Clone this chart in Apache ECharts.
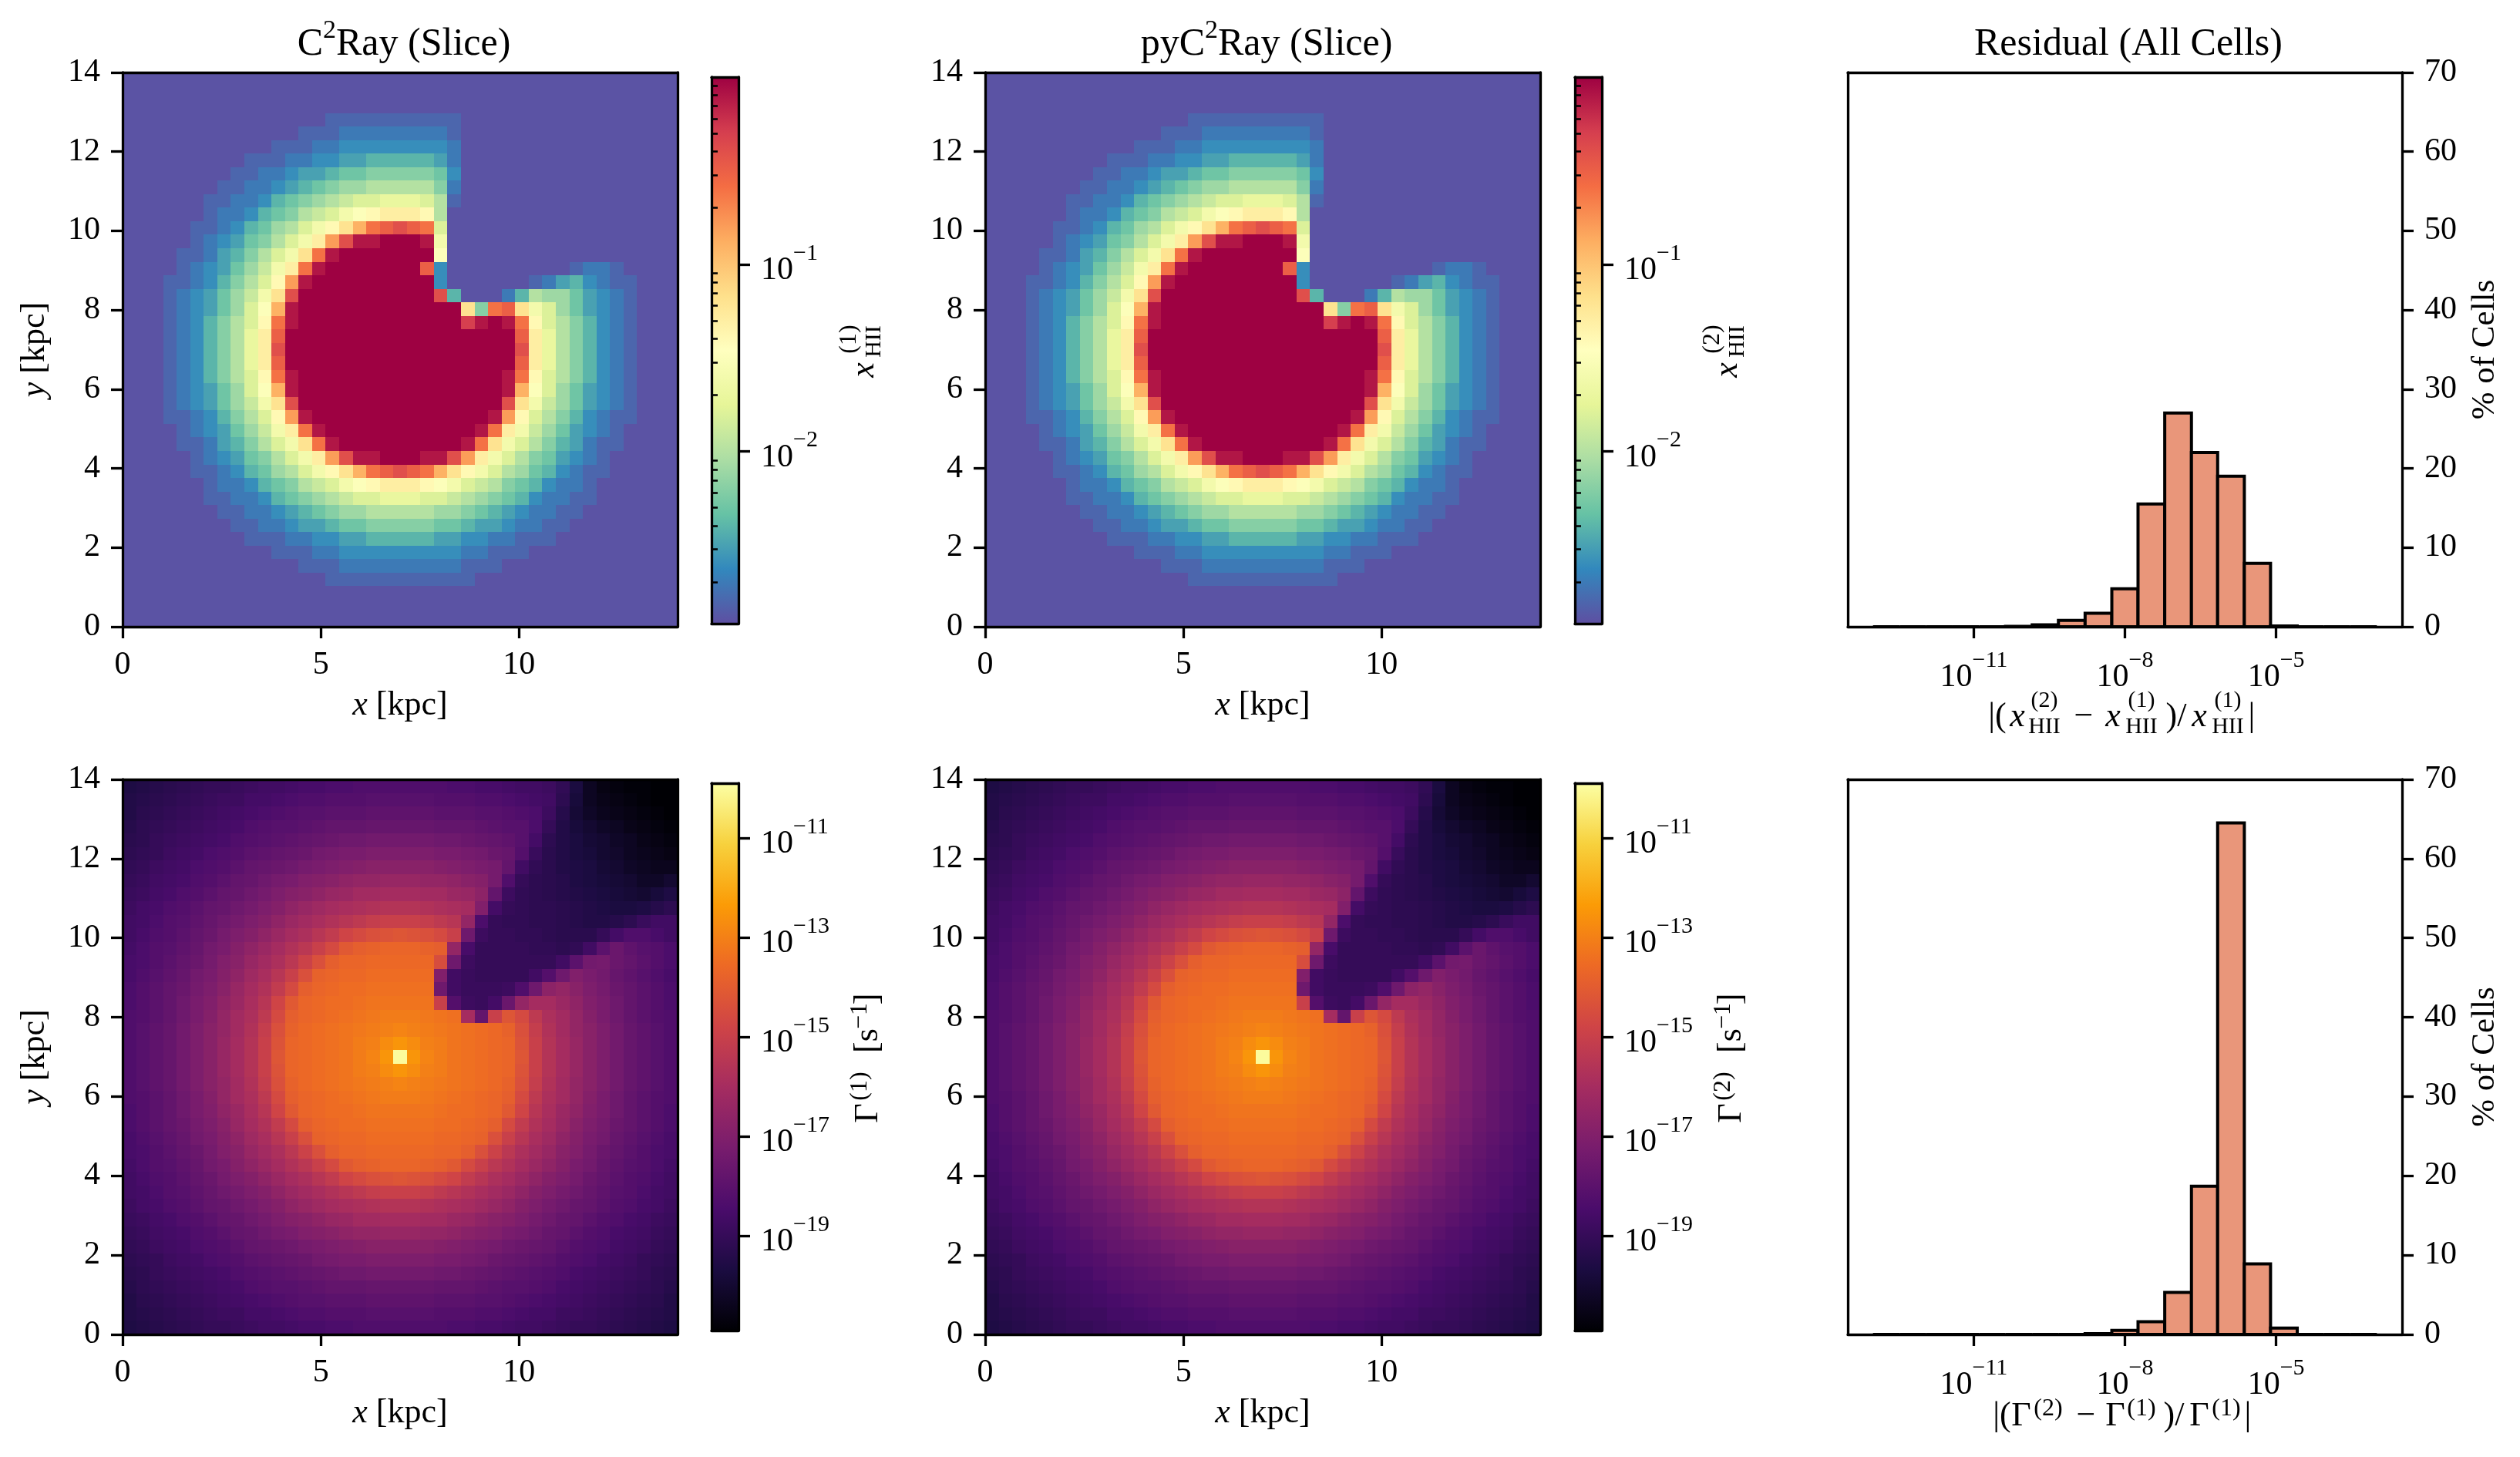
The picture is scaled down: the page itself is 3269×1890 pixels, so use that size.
<!DOCTYPE html>
<html><head><meta charset="utf-8">
<script src="https://cdn.jsdelivr.net/npm/echarts@6/dist/echarts.min.js"></script>
<style>html,body{margin:0;padding:0;background:#fff}#c{width:3269px;height:1890px}</style></head>
<body><div id="c"></div>
<script>
const FONT='"Liberation Serif"';
const spectral=['#5e4fa2','#3288bd','#66c2a5','#abdda4','#e6f598','#ffffbf','#fee08b','#fdae61','#f46d43','#d53e4f','#9e0142'];
const inferno=['#000004','#1b0c41','#4a0c6b','#781c6d','#a52c60','#cf4446','#ed6925','#fb9b06','#f7d13d','#fcffa4'];
const ionRange=[-2.92,0], rateRange=[-20.9,-9.9];
const ionMajor=[-2,-1];
const ionMinor=[-2.699,-2.523,-2.398,-2.301,-2.222,-2.155,-2.097,-2.046,-1.699,-1.523,-1.398,-1.301,-1.222,-1.155,-1.097,-1.046,-0.699,-0.523,-0.398,-0.301,-0.222,-0.155,-0.097,-0.046];
const rateMajor=[-19,-17,-15,-13,-11];
const binEdges=[-13,-12.47,-11.95,-11.42,-10.89,-10.37,-9.84,-9.32,-8.79,-8.26,-7.74,-7.21,-6.68,-6.16,-5.63,-5.11,-4.58,-4.05,-3.53,-3];
const histIon=[0,0,0,0,0,0.05,0.25,0.8,1.7,4.8,15.5,27,22,19,8,0.1,0,0,0];
const histRate=[0,0,0,0,0,0,0,0,0.1,0.5,1.6,5.3,18.7,64.5,8.9,0.8,0,0,0];
// log10(x_HII) x 10, top row first
const ionField=[
[-29,-29,-29,-29,-29,-29,-29,-29,-29,-29,-29,-29,-29,-29,-29,-29,-29,-29,-29,-29,-29,-29,-29,-29,-29,-29,-29,-29,-29,-29,-29,-29,-29,-29,-29,-29,-29,-29,-29,-29,-29],
[-29,-29,-29,-29,-29,-29,-29,-29,-29,-29,-29,-29,-29,-29,-29,-29,-29,-29,-29,-29,-29,-29,-29,-29,-29,-29,-29,-29,-29,-29,-29,-29,-29,-29,-29,-29,-29,-29,-29,-29,-29],
[-29,-29,-29,-29,-29,-29,-29,-29,-29,-29,-29,-29,-29,-29,-29,-29,-29,-29,-29,-29,-29,-29,-29,-29,-29,-29,-29,-29,-29,-29,-29,-29,-29,-29,-29,-29,-29,-29,-29,-29,-29],
[-29,-29,-29,-29,-29,-29,-29,-29,-29,-29,-29,-29,-29,-29,-29,-28,-28,-28,-28,-28,-28,-28,-28,-28,-28,-29,-29,-29,-29,-29,-29,-29,-29,-29,-29,-29,-29,-29,-29,-29,-29],
[-29,-29,-29,-29,-29,-29,-29,-29,-29,-29,-29,-29,-29,-28,-28,-28,-27,-27,-27,-27,-27,-27,-27,-27,-28,-29,-29,-29,-29,-29,-29,-29,-29,-29,-29,-29,-29,-29,-29,-29,-29],
[-29,-29,-29,-29,-29,-29,-29,-29,-29,-29,-29,-28,-28,-28,-27,-27,-26,-26,-26,-26,-26,-26,-26,-26,-27,-29,-29,-29,-29,-29,-29,-29,-29,-29,-29,-29,-29,-29,-29,-29,-29],
[-29,-29,-29,-29,-29,-29,-29,-29,-29,-28,-28,-28,-27,-27,-26,-26,-25,-25,-24,-24,-24,-24,-24,-25,-27,-29,-29,-29,-29,-29,-29,-29,-29,-29,-29,-29,-29,-29,-29,-29,-29],
[-29,-29,-29,-29,-29,-29,-29,-29,-28,-28,-27,-27,-26,-25,-25,-24,-23,-23,-22,-22,-22,-22,-22,-23,-26,-29,-29,-29,-29,-29,-29,-29,-29,-29,-29,-29,-29,-29,-29,-29,-29],
[-29,-29,-29,-29,-29,-29,-29,-28,-28,-27,-27,-26,-25,-24,-23,-22,-21,-21,-20,-20,-20,-20,-20,-22,-27,-29,-29,-29,-29,-29,-29,-29,-29,-29,-29,-29,-29,-29,-29,-29,-29],
[-29,-29,-29,-29,-29,-29,-28,-28,-27,-27,-26,-24,-23,-22,-21,-20,-19,-18,-18,-17,-17,-17,-18,-20,-28,-29,-29,-29,-29,-29,-29,-29,-29,-29,-29,-29,-29,-29,-29,-29,-29],
[-29,-29,-29,-29,-29,-29,-28,-27,-27,-26,-24,-23,-22,-20,-19,-18,-16,-15,-14,-13,-13,-13,-14,-20,-29,-29,-29,-29,-29,-29,-29,-29,-29,-29,-29,-29,-29,-29,-29,-29,-29],
[-29,-29,-29,-29,-29,-28,-28,-27,-26,-24,-23,-21,-20,-18,-16,-14,-12,-9,-6,-5,-4,-5,-6,-18,-29,-29,-29,-29,-29,-29,-29,-29,-29,-29,-29,-29,-29,-29,-29,-29,-29],
[-29,-29,-29,-29,-29,-28,-27,-26,-25,-23,-22,-20,-18,-16,-13,-8,-4,-1,-1,0,0,0,-1,-16,-29,-29,-29,-29,-29,-29,-29,-29,-29,-29,-29,-29,-29,-29,-29,-29,-29],
[-29,-29,-29,-29,-28,-28,-27,-25,-24,-22,-20,-18,-16,-12,-6,-1,0,0,0,0,0,0,0,-15,-29,-29,-29,-29,-29,-29,-29,-29,-29,-29,-29,-29,-29,-29,-29,-29,-29],
[-29,-29,-29,-29,-28,-27,-26,-25,-23,-21,-19,-16,-13,-6,-1,0,0,0,0,0,0,0,-5,-26,-29,-29,-29,-29,-29,-29,-29,-29,-29,-28,-27,-27,-28,-29,-29,-29,-29],
[-29,-29,-29,-28,-28,-27,-26,-24,-22,-20,-18,-14,-8,-1,0,0,0,0,0,0,0,0,0,-26,-29,-29,-29,-29,-29,-29,-28,-27,-25,-24,-26,-27,-28,-28,-29,-29,-29],
[-29,-29,-29,-28,-27,-26,-25,-23,-21,-19,-16,-12,-4,0,0,0,0,0,0,0,0,0,0,-4,-24,-29,-29,-29,-27,-24,-20,-21,-21,-23,-25,-26,-27,-28,-29,-29,-29],
[-29,-29,-29,-28,-27,-26,-25,-23,-21,-18,-15,-9,-1,0,0,0,0,0,0,0,0,0,0,0,0,-12,-22,-6,-5,-12,-16,-18,-21,-23,-25,-26,-27,-28,-29,-29,-29],
[-29,-29,-29,-28,-27,-26,-24,-22,-20,-18,-14,-6,-1,0,0,0,0,0,0,0,0,0,0,0,0,-3,-1,0,-1,-6,-14,-18,-20,-22,-24,-26,-27,-28,-29,-29,-29],
[-29,-29,-29,-28,-27,-26,-24,-22,-20,-17,-13,-5,0,0,0,0,0,0,0,0,0,0,0,0,0,0,0,0,0,-5,-13,-17,-20,-22,-24,-26,-27,-28,-29,-29,-29],
[-29,-29,-29,-28,-27,-26,-24,-22,-20,-17,-13,-4,0,0,0,0,0,0,0,0,0,0,0,0,0,0,0,0,0,-4,-13,-17,-20,-22,-24,-26,-27,-28,-29,-29,-29],
[-29,-29,-29,-28,-27,-26,-24,-22,-20,-17,-13,-5,0,0,0,0,0,0,0,0,0,0,0,0,0,0,0,0,0,-5,-13,-17,-20,-22,-24,-26,-27,-28,-29,-29,-29],
[-29,-29,-29,-28,-27,-26,-24,-22,-20,-18,-14,-6,-1,0,0,0,0,0,0,0,0,0,0,0,0,0,0,0,-1,-6,-14,-18,-20,-22,-24,-26,-27,-28,-29,-29,-29],
[-29,-29,-29,-28,-27,-26,-25,-23,-21,-18,-15,-9,-1,0,0,0,0,0,0,0,0,0,0,0,0,0,0,0,-1,-9,-15,-18,-21,-23,-25,-26,-27,-28,-29,-29,-29],
[-29,-29,-29,-28,-27,-26,-25,-23,-21,-19,-16,-12,-4,0,0,0,0,0,0,0,0,0,0,0,0,0,0,0,-4,-12,-16,-19,-21,-23,-25,-26,-27,-28,-29,-29,-29],
[-29,-29,-29,-28,-28,-27,-26,-24,-22,-20,-18,-14,-8,-1,0,0,0,0,0,0,0,0,0,0,0,0,0,-1,-8,-14,-18,-20,-22,-24,-26,-27,-28,-28,-29,-29,-29],
[-29,-29,-29,-29,-28,-27,-26,-25,-23,-21,-19,-16,-13,-6,-1,0,0,0,0,0,0,0,0,0,0,0,-1,-6,-13,-16,-19,-21,-23,-25,-26,-27,-28,-29,-29,-29,-29],
[-29,-29,-29,-29,-28,-28,-27,-25,-24,-22,-20,-18,-16,-12,-6,-1,0,0,0,0,0,0,0,0,0,-1,-6,-12,-16,-18,-20,-22,-24,-25,-27,-28,-28,-29,-29,-29,-29],
[-29,-29,-29,-29,-29,-28,-27,-26,-25,-23,-22,-20,-18,-16,-13,-8,-4,-1,-1,0,0,0,-1,-1,-4,-8,-13,-16,-18,-20,-22,-23,-25,-26,-27,-28,-29,-29,-29,-29,-29],
[-29,-29,-29,-29,-29,-28,-28,-27,-26,-24,-23,-21,-20,-18,-16,-14,-12,-9,-6,-5,-4,-5,-6,-9,-12,-14,-16,-18,-20,-21,-23,-24,-26,-27,-28,-28,-29,-29,-29,-29,-29],
[-29,-29,-29,-29,-29,-29,-28,-27,-27,-26,-24,-23,-22,-20,-19,-18,-16,-15,-14,-13,-13,-13,-14,-15,-16,-18,-19,-20,-22,-23,-24,-26,-27,-27,-28,-29,-29,-29,-29,-29,-29],
[-29,-29,-29,-29,-29,-29,-28,-28,-27,-27,-26,-24,-23,-22,-21,-20,-19,-18,-18,-17,-17,-17,-18,-18,-19,-20,-21,-22,-23,-24,-26,-27,-27,-28,-28,-29,-29,-29,-29,-29,-29],
[-29,-29,-29,-29,-29,-29,-29,-28,-28,-27,-27,-26,-25,-24,-23,-22,-21,-21,-20,-20,-20,-20,-20,-21,-21,-22,-23,-24,-25,-26,-27,-27,-28,-28,-29,-29,-29,-29,-29,-29,-29],
[-29,-29,-29,-29,-29,-29,-29,-29,-28,-28,-27,-27,-26,-25,-25,-24,-23,-23,-22,-22,-22,-22,-22,-23,-23,-24,-25,-25,-26,-27,-27,-28,-28,-29,-29,-29,-29,-29,-29,-29,-29],
[-29,-29,-29,-29,-29,-29,-29,-29,-29,-28,-28,-28,-27,-27,-26,-26,-25,-25,-24,-24,-24,-24,-24,-25,-25,-26,-26,-27,-27,-28,-28,-28,-29,-29,-29,-29,-29,-29,-29,-29,-29],
[-29,-29,-29,-29,-29,-29,-29,-29,-29,-29,-29,-28,-28,-28,-27,-27,-26,-26,-26,-26,-26,-26,-26,-26,-26,-27,-27,-28,-28,-28,-29,-29,-29,-29,-29,-29,-29,-29,-29,-29,-29],
[-29,-29,-29,-29,-29,-29,-29,-29,-29,-29,-29,-29,-29,-28,-28,-28,-27,-27,-27,-27,-27,-27,-27,-27,-27,-28,-28,-28,-29,-29,-29,-29,-29,-29,-29,-29,-29,-29,-29,-29,-29],
[-29,-29,-29,-29,-29,-29,-29,-29,-29,-29,-29,-29,-29,-29,-29,-28,-28,-28,-28,-28,-28,-28,-28,-28,-28,-28,-29,-29,-29,-29,-29,-29,-29,-29,-29,-29,-29,-29,-29,-29,-29],
[-29,-29,-29,-29,-29,-29,-29,-29,-29,-29,-29,-29,-29,-29,-29,-29,-29,-29,-29,-29,-29,-29,-29,-29,-29,-29,-29,-29,-29,-29,-29,-29,-29,-29,-29,-29,-29,-29,-29,-29,-29],
[-29,-29,-29,-29,-29,-29,-29,-29,-29,-29,-29,-29,-29,-29,-29,-29,-29,-29,-29,-29,-29,-29,-29,-29,-29,-29,-29,-29,-29,-29,-29,-29,-29,-29,-29,-29,-29,-29,-29,-29,-29],
[-29,-29,-29,-29,-29,-29,-29,-29,-29,-29,-29,-29,-29,-29,-29,-29,-29,-29,-29,-29,-29,-29,-29,-29,-29,-29,-29,-29,-29,-29,-29,-29,-29,-29,-29,-29,-29,-29,-29,-29,-29]];
// log10(Gamma) x 10, top row first
const rateField=[
[-196,-195,-194,-193,-192,-191,-190,-190,-189,-188,-187,-187,-186,-185,-185,-184,-184,-183,-183,-183,-183,-183,-183,-183,-184,-184,-185,-185,-186,-187,-187,-188,-191,-197,-203,-206,-207,-208,-208,-209,-209],
[-195,-194,-193,-192,-191,-190,-189,-188,-188,-186,-186,-185,-184,-183,-183,-182,-182,-182,-181,-181,-181,-181,-181,-182,-182,-182,-183,-183,-184,-185,-186,-187,-192,-198,-203,-205,-206,-207,-208,-209,-209],
[-195,-193,-192,-191,-190,-189,-188,-187,-186,-185,-184,-183,-182,-181,-181,-180,-180,-180,-179,-179,-179,-179,-179,-180,-180,-180,-181,-181,-182,-183,-184,-188,-194,-199,-202,-204,-205,-206,-207,-208,-209],
[-194,-192,-191,-190,-189,-188,-187,-186,-185,-183,-182,-181,-181,-180,-179,-178,-178,-178,-177,-177,-177,-177,-177,-178,-178,-178,-179,-180,-181,-181,-184,-190,-195,-198,-200,-202,-203,-205,-206,-207,-208],
[-193,-192,-190,-189,-188,-187,-186,-185,-183,-182,-181,-180,-179,-178,-177,-176,-175,-175,-174,-174,-174,-174,-174,-175,-175,-176,-177,-178,-179,-181,-186,-192,-195,-197,-199,-200,-202,-203,-205,-206,-207],
[-192,-191,-190,-188,-187,-186,-184,-183,-182,-180,-179,-178,-177,-176,-174,-173,-172,-172,-171,-171,-171,-171,-171,-172,-172,-173,-174,-176,-177,-182,-189,-193,-195,-197,-198,-200,-201,-203,-204,-205,-206],
[-191,-190,-188,-187,-186,-184,-183,-182,-180,-178,-177,-176,-175,-173,-172,-171,-170,-169,-168,-168,-168,-168,-168,-169,-170,-171,-172,-173,-178,-187,-191,-193,-195,-196,-197,-199,-200,-202,-203,-204,-204],
[-190,-189,-187,-186,-185,-183,-182,-180,-178,-177,-175,-173,-172,-170,-169,-168,-166,-165,-165,-164,-164,-164,-165,-165,-166,-168,-169,-173,-183,-190,-192,-193,-194,-196,-197,-198,-199,-200,-202,-202,-200],
[-189,-188,-186,-185,-183,-182,-180,-178,-177,-175,-173,-171,-169,-168,-166,-164,-163,-161,-161,-160,-160,-160,-161,-161,-163,-164,-167,-178,-188,-191,-192,-193,-194,-195,-196,-197,-198,-199,-200,-198,-196],
[-188,-186,-185,-183,-182,-180,-178,-177,-175,-173,-171,-169,-166,-164,-162,-160,-159,-158,-157,-156,-156,-156,-157,-158,-159,-160,-170,-186,-190,-191,-192,-192,-193,-194,-195,-196,-197,-197,-196,-194,-192],
[-187,-186,-184,-182,-181,-179,-177,-175,-173,-171,-169,-166,-163,-161,-159,-157,-155,-153,-151,-150,-150,-150,-151,-153,-155,-165,-184,-190,-191,-191,-192,-192,-193,-194,-195,-195,-194,-192,-189,-187,-187],
[-187,-185,-183,-182,-180,-178,-176,-173,-171,-169,-166,-163,-160,-158,-155,-152,-148,-146,-144,-143,-142,-143,-144,-146,-150,-175,-188,-190,-190,-191,-191,-192,-193,-193,-193,-190,-186,-183,-183,-185,-187],
[-186,-184,-182,-181,-179,-177,-174,-172,-169,-166,-163,-160,-157,-154,-150,-146,-141,-139,-138,-137,-137,-137,-138,-139,-165,-185,-190,-190,-190,-190,-191,-191,-192,-191,-187,-180,-176,-179,-181,-182,-184],
[-185,-184,-182,-180,-178,-176,-173,-170,-168,-164,-161,-158,-154,-149,-144,-139,-137,-137,-136,-136,-136,-136,-136,-145,-175,-188,-190,-190,-190,-190,-190,-190,-187,-180,-174,-173,-176,-178,-180,-182,-184],
[-185,-183,-181,-179,-177,-174,-172,-169,-166,-162,-159,-155,-150,-144,-138,-137,-136,-136,-135,-135,-135,-135,-135,-170,-187,-189,-190,-190,-190,-190,-187,-182,-175,-170,-172,-174,-177,-179,-181,-183,-185],
[-184,-182,-180,-178,-176,-173,-171,-168,-164,-160,-157,-152,-146,-139,-137,-136,-135,-135,-134,-134,-134,-134,-134,-175,-187,-189,-189,-189,-188,-183,-175,-167,-165,-168,-171,-173,-176,-178,-180,-182,-184],
[-184,-182,-180,-178,-175,-172,-170,-166,-163,-159,-155,-148,-141,-137,-136,-135,-135,-134,-133,-133,-133,-133,-133,-150,-182,-188,-189,-186,-176,-165,-160,-160,-163,-166,-170,-172,-175,-178,-180,-182,-184],
[-183,-182,-180,-178,-175,-172,-169,-165,-161,-158,-153,-146,-139,-137,-136,-135,-134,-133,-132,-131,-131,-131,-132,-133,-134,-160,-178,-150,-142,-146,-153,-158,-161,-165,-169,-172,-175,-178,-180,-182,-183],
[-183,-181,-179,-177,-174,-171,-168,-165,-161,-157,-151,-144,-138,-136,-135,-134,-133,-132,-131,-130,-129,-130,-131,-132,-133,-134,-135,-136,-138,-144,-151,-157,-161,-165,-168,-171,-174,-177,-179,-181,-183],
[-183,-181,-179,-177,-174,-171,-168,-164,-160,-156,-150,-143,-137,-136,-135,-134,-133,-131,-130,-127,-125,-127,-130,-131,-133,-134,-135,-136,-137,-143,-150,-156,-160,-164,-168,-171,-174,-177,-179,-181,-183],
[-183,-181,-179,-177,-174,-171,-168,-164,-160,-156,-150,-142,-137,-136,-135,-134,-133,-131,-129,-125,-100,-125,-129,-131,-133,-134,-135,-136,-137,-142,-150,-156,-160,-164,-168,-171,-174,-177,-179,-181,-183],
[-183,-181,-179,-177,-174,-171,-168,-164,-160,-156,-150,-143,-137,-136,-135,-134,-133,-131,-130,-127,-125,-127,-130,-131,-133,-134,-135,-136,-137,-143,-150,-156,-160,-164,-168,-171,-174,-177,-179,-181,-183],
[-183,-181,-179,-177,-174,-171,-168,-165,-161,-157,-151,-144,-138,-136,-135,-134,-133,-132,-131,-130,-129,-130,-131,-132,-133,-134,-135,-136,-138,-144,-151,-157,-161,-165,-168,-171,-174,-177,-179,-181,-183],
[-183,-182,-180,-178,-175,-172,-169,-165,-161,-158,-153,-146,-139,-137,-136,-135,-134,-133,-132,-131,-131,-131,-132,-133,-134,-135,-136,-137,-139,-146,-153,-158,-161,-165,-169,-172,-175,-178,-180,-182,-183],
[-184,-182,-180,-178,-175,-172,-170,-166,-163,-159,-155,-148,-141,-137,-136,-135,-135,-134,-133,-133,-133,-133,-133,-134,-135,-135,-136,-137,-141,-148,-155,-159,-163,-166,-170,-172,-175,-178,-180,-182,-184],
[-184,-182,-180,-178,-176,-173,-171,-168,-164,-160,-157,-152,-146,-139,-137,-136,-135,-135,-134,-134,-134,-134,-134,-135,-135,-136,-137,-139,-146,-152,-157,-160,-164,-168,-171,-173,-176,-178,-180,-182,-184],
[-185,-183,-181,-179,-177,-174,-172,-169,-166,-162,-159,-155,-150,-144,-138,-137,-136,-136,-135,-135,-135,-135,-135,-136,-136,-137,-138,-144,-150,-155,-159,-162,-166,-169,-172,-174,-177,-179,-181,-183,-185],
[-185,-184,-182,-180,-178,-176,-173,-170,-168,-164,-161,-158,-154,-149,-144,-139,-137,-137,-136,-136,-136,-136,-136,-137,-137,-139,-144,-149,-154,-158,-161,-164,-168,-170,-173,-176,-178,-180,-182,-184,-185],
[-186,-184,-182,-181,-179,-177,-174,-172,-169,-166,-163,-160,-157,-154,-150,-146,-141,-139,-138,-137,-137,-137,-138,-139,-141,-146,-150,-154,-157,-160,-163,-166,-169,-172,-174,-177,-179,-181,-182,-184,-186],
[-187,-185,-183,-182,-180,-178,-176,-173,-171,-169,-166,-163,-160,-158,-155,-152,-148,-146,-144,-143,-142,-143,-144,-146,-148,-152,-155,-158,-160,-163,-166,-169,-171,-173,-176,-178,-180,-182,-183,-185,-187],
[-187,-186,-184,-182,-181,-179,-177,-175,-173,-171,-169,-166,-163,-161,-159,-157,-155,-153,-151,-150,-150,-150,-151,-153,-155,-157,-159,-161,-163,-166,-169,-171,-173,-175,-177,-179,-181,-182,-184,-186,-187],
[-188,-186,-185,-183,-182,-180,-178,-177,-175,-173,-171,-169,-166,-164,-162,-160,-159,-158,-157,-156,-156,-156,-157,-158,-159,-160,-162,-164,-166,-169,-171,-173,-175,-177,-178,-180,-182,-183,-185,-186,-188],
[-189,-188,-186,-185,-183,-182,-180,-178,-177,-175,-173,-171,-169,-168,-166,-164,-163,-161,-161,-160,-160,-160,-161,-161,-163,-164,-166,-168,-169,-171,-173,-175,-177,-178,-180,-182,-183,-185,-186,-188,-189],
[-190,-189,-187,-186,-185,-183,-182,-180,-178,-177,-175,-173,-172,-170,-169,-168,-166,-165,-165,-164,-164,-164,-165,-165,-166,-168,-169,-170,-172,-173,-175,-177,-178,-180,-182,-183,-185,-186,-187,-189,-190],
[-191,-190,-188,-187,-186,-184,-183,-182,-180,-178,-177,-176,-175,-173,-172,-171,-170,-169,-168,-168,-168,-168,-168,-169,-170,-171,-172,-173,-175,-176,-177,-178,-180,-182,-183,-184,-186,-187,-188,-190,-191],
[-192,-191,-190,-188,-187,-186,-184,-183,-182,-180,-179,-178,-177,-176,-174,-173,-172,-172,-171,-171,-171,-171,-171,-172,-172,-173,-174,-176,-177,-178,-179,-180,-182,-183,-184,-186,-187,-188,-190,-191,-192],
[-193,-192,-190,-189,-188,-187,-186,-185,-183,-182,-181,-180,-179,-178,-177,-176,-175,-175,-174,-174,-174,-174,-174,-175,-175,-176,-177,-178,-179,-180,-181,-182,-183,-185,-186,-187,-188,-189,-190,-192,-193],
[-194,-192,-191,-190,-189,-188,-187,-186,-185,-183,-182,-181,-181,-180,-179,-178,-178,-178,-177,-177,-177,-177,-177,-178,-178,-178,-179,-180,-181,-181,-182,-183,-185,-186,-187,-188,-189,-190,-191,-192,-194],
[-195,-193,-192,-191,-190,-189,-188,-187,-186,-185,-184,-183,-182,-181,-181,-180,-180,-180,-179,-179,-179,-179,-179,-180,-180,-180,-181,-181,-182,-183,-184,-185,-186,-187,-188,-189,-190,-191,-192,-193,-195],
[-195,-194,-193,-192,-191,-190,-189,-188,-188,-186,-186,-185,-184,-183,-183,-182,-182,-182,-181,-181,-181,-181,-181,-182,-182,-182,-183,-183,-184,-185,-186,-186,-188,-188,-189,-190,-191,-192,-193,-194,-195],
[-196,-195,-194,-193,-192,-191,-190,-190,-189,-188,-187,-187,-186,-185,-185,-184,-184,-183,-183,-183,-183,-183,-183,-183,-184,-184,-185,-185,-186,-187,-187,-188,-189,-190,-190,-191,-192,-193,-194,-195,-196]];

const grids=[],xAxes=[],yAxes=[],series=[],vms=[],graphics=[],titles=[];
const TS=42, LW=3.3;
const rich={b:{fontFamily:FONT,fontSize:TS,lineHeight:58,verticalAlign:'bottom',color:'#000'},s:{fontFamily:FONT,fontSize:30,lineHeight:58,verticalAlign:'top',color:'#000'}};
const nameRich={i:{fontFamily:FONT,fontSize:44,fontStyle:'italic',color:'#000'},n:{fontFamily:FONT,fontSize:44,color:'#000'}};
const pow=v=>`{b|10}{s|−${Math.abs(Math.round(v))}}`;
function base(g,min,max,pos){return {gridIndex:g,type:'value',min,max,position:pos,z:10,splitLine:{show:false},axisLine:{show:true,onZero:false,lineStyle:{color:'#000',width:LW}},axisTick:{show:false},axisLabel:{show:false}};}
function X(o){xAxes.push(o);return xAxes.length-1;}
function Y(o){yAxes.push(o);return yAxes.length-1;}
function grid(l,t,w,h){grids.push({left:l,top:t,width:w,height:h});return grids.length-1;}
const tick=(vals,len,w)=>({show:true,customValues:vals,length:len,lineStyle:{color:'#000',width:w||LW}});
const lab=(vals,fmt)=>({show:true,customValues:vals,margin:29,hideOverlap:false,showMinLabel:true,showMaxLabel:true,fontFamily:FONT,fontSize:TS,color:'#000',formatter:fmt,rich});

function heat(g,field,range,colors,withY){
  const cols=field[0].length,cell=14/cols,data=[];
  field.forEach((row,r)=>row.forEach((v,c)=>data.push([(c+.5)*cell,14-(r+.5)*cell,v/10])));
  const xi=X(Object.assign(base(g,0,14,'bottom'),{axisTick:tick([0,5,10],15),axisLabel:lab([0,5,10],v=>String(v)),
    name:'{i|x}{n| [kpc]}',nameLocation:'middle',nameGap:80,nameTextStyle:{rich:nameRich}}));
  const yo=Object.assign(base(g,0,14,'left'),{axisTick:tick([0,2,4,6,8,10,12,14],15),axisLabel:lab([0,2,4,6,8,10,12,14],v=>String(v))});
  if(withY)Object.assign(yo,{name:'{i|y}{n| [kpc]}',nameLocation:'middle',nameGap:92,nameRotate:90,nameTextStyle:{rich:nameRich}});
  const yi=Y(yo);
  X(base(g,0,14,'top'));Y(base(g,0,14,'right'));
  const si=series.length;
  series.push({type:'custom',xAxisIndex:xi,yAxisIndex:yi,data,encode:{x:0,y:1},clip:true,silent:true,animation:false,progressive:0,
    renderItem(p,api){const x=api.value(0),y=api.value(1),a=api.coord([x-cell/2,y+cell/2]),b=api.coord([x+cell/2,y-cell/2]);
      const x0=Math.round(a[0]),y0=Math.round(a[1]),x1=Math.round(b[0]),y1=Math.round(b[1]);
      return {type:'rect',shape:{x:x0,y:y0,width:x1-x0,height:y1-y0},style:{fill:api.visual('color')}};}});
  vms.push({type:'continuous',show:false,seriesIndex:si,dimension:2,min:range[0],max:range[1],inRange:{color:colors}});
}
function colorbar(g,range,colors,major,minor){
  const xi=X(base(g,0,1,'bottom'));X(base(g,0,1,'top'));
  Y(base(g,range[0],range[1],'left'));
  const yi=Y(Object.assign(base(g,range[0],range[1],'right'),{axisTick:tick(major,15),axisLabel:lab(major,pow)}));
  if(minor)Y(Object.assign(base(g,range[0],range[1],'right'),{axisLine:{show:false},axisTick:tick(minor,8,2.5)}));
  const stops=colors.map((c,i)=>({offset:1-i/(colors.length-1),color:c})).reverse();
  series.push({type:'custom',xAxisIndex:xi,yAxisIndex:yi,data:[range],encode:{y:[0,1]},silent:true,animation:false,
    renderItem(p,api){const a=api.coord([0,api.value(1)]),b=api.coord([1,api.value(0)]);
      return {type:'rect',shape:{x:a[0],y:a[1],width:b[0]-a[0],height:b[1]-a[1]},style:{fill:new echarts.graphic.LinearGradient(0,0,0,1,stops)}};}});
}
function hist(g,vals){
  const xi=X(Object.assign(base(g,-13.5,-2.5,'bottom'),{axisTick:tick([-11,-8,-5],15),axisLabel:lab([-11,-8,-5],pow)}));
  X(base(g,-13.5,-2.5,'top'));Y(base(g,0,70,'left'));
  const yi=Y(Object.assign(base(g,0,70,'right'),{interval:10,axisTick:tick([0,10,20,30,40,50,60,70],15),axisLabel:lab([0,10,20,30,40,50,60,70],v=>String(v)),
    name:'% of Cells',nameLocation:'middle',nameGap:86,nameRotate:90,nameTextStyle:{fontFamily:FONT,fontSize:43,color:'#000'}}));
  series.push({type:'custom',xAxisIndex:xi,yAxisIndex:yi,data:vals.map((v,i)=>[binEdges[i],binEdges[i+1],v]),encode:{x:[0,1],y:2},clip:false,silent:true,animation:false,
    renderItem(p,api){const a=api.coord([api.value(0),api.value(2)]),b=api.coord([api.value(1),0]);
      return {type:'rect',z2:5,shape:{x:a[0],y:a[1],width:b[0]-a[0],height:b[1]-a[1]},style:{fill:'#E9967A',stroke:'#000',lineWidth:LW+.7}};}});
}
const colX=[159,1278],barX=[923,2043],rowT=[94,1011],barT=[100,1016],barH=[709,710],histX=2397,W=720,H=[719,720];
[0,1].forEach(c=>{
  heat(grid(colX[c],rowT[0],W,H[0]),ionField,ionRange,spectral,c===0);
  colorbar(grid(barX[c],barT[0],35,barH[0]),ionRange,spectral,ionMajor,ionMinor);
  heat(grid(colX[c],rowT[1],W,H[1]),rateField,rateRange,inferno,c===0);
  colorbar(grid(barX[c],barT[1],35,barH[1]),rateRange,inferno,rateMajor,null);
});
hist(grid(histX,rowT[0],W-1,H[0]),histIon);
hist(grid(histX,rowT[1],W-1,H[1]),histRate);

function tx(text,x,y,size,italic,align){return {type:'text',x,y,silent:true,style:{text,x:0,y:0,fill:'#000',font:`${italic?'italic ':''}${size}px ${FONT}`,align:align||'center',verticalAlign:'middle'}};}
function ionLabel(off,which){graphics.push({type:'group',x:1122+off,y:455,rotation:Math.PI/2,children:[
  tx('x',-25,-1,44,true),tx(which,15,-20,32),tx('HII',12,12,30)]});}
function rateLabel(off,which){graphics.push({type:'group',x:1126+off,y:1373,rotation:Math.PI/2,children:[
  tx('Γ',-71,0,44),tx(which,-36,-10,32),tx('[s',23,0,44),tx('−1',55,-10,32),tx(']',77,0,44)]});}
ionLabel(0,'(1)');ionLabel(1120,'(2)');rateLabel(0,'(1)');rateLabel(1120,'(2)');
const ionRes=[tx('|(',2591,930,44),tx('x',2617,930,44,true),tx('(2)',2652,909,30),tx('HII',2652,943,30),tx('−',2703,930,44),
 tx('x',2741,930,44,true),tx('(1)',2778,909,30),tx('HII',2778,943,30),tx(')/',2823,930,44),tx('x',2853,930,44,true),tx('(1)',2890,909,30),tx('HII',2890,943,30),tx('|',2921,930,44)];
const rateRes=[tx('|(',2597,1837,44),tx('Γ',2622,1837,44),tx('(2)',2657,1828,32),tx('−',2706,1837,44),tx('Γ',2744,1837,44),tx('(1)',2778,1828,32),tx(')/',2820,1837,44),tx('Γ',2853,1837,44),tx('(1)',2888,1828,32),tx('|',2916,1837,44)];
graphics.push(...ionRes,...rateRes);
const tRich={a:{fontFamily:FONT,fontSize:50,fontWeight:'normal',lineHeight:60,verticalAlign:'bottom',color:'#000'},s:{fontFamily:FONT,fontSize:34,fontWeight:'normal',lineHeight:60,verticalAlign:'top',color:'#000'}};
[['{a|C}{s|2}{a|Ray (Slice)}',519],['{a|pyC}{s|2}{a|Ray (Slice)}',1638],['{a|Residual (All Cells)}',2756]].forEach(([t,x])=>
  titles.push({text:t,left:x,top:18,textAlign:'center',textStyle:{fontWeight:'normal',rich:tRich}}));

const chart=echarts.init(document.getElementById('c'),null,{renderer:'canvas',width:3269,height:1890});
chart.setOption({animation:false,backgroundColor:'#fff',title:titles,grid:grids,xAxis:xAxes,yAxis:yAxes,visualMap:vms,series,graphic:{elements:graphics}});
</script></body></html>
